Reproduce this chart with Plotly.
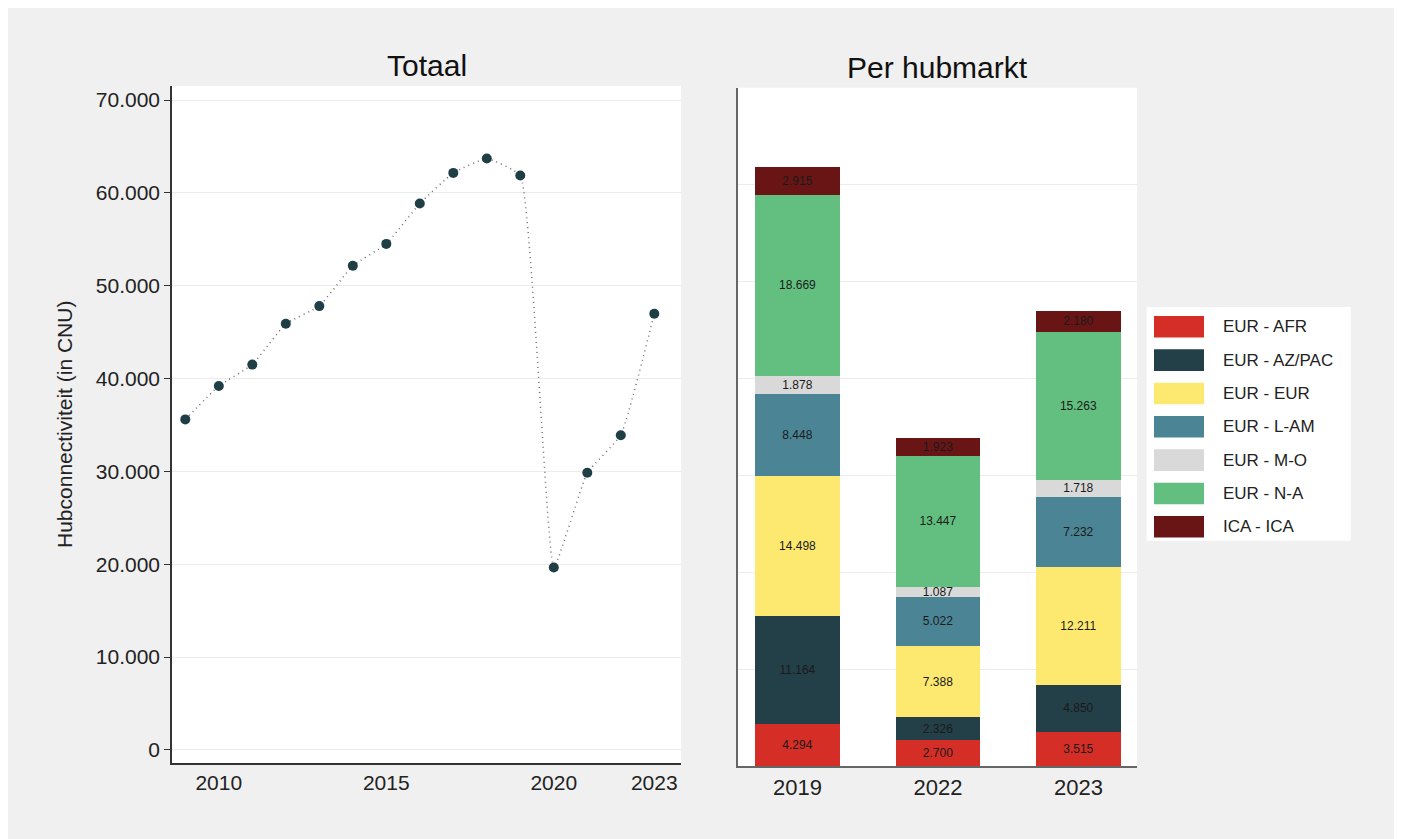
import plotly.graph_objects as go

# ---------------- data ----------------
years = list(range(2009, 2024))
totaal = [35600, 39200, 41500, 45900, 47800, 52150, 54500, 58850, 62150,
          63700, 61866, 19650, 29850, 33893, 46969]
line_xticks = [2010, 2015, 2020, 2023]
line_xticktext = ["2010", "2015", "2020", "2023"]
y_ticks = [0, 10000, 20000, 30000, 40000, 50000, 60000, 70000]

bar_years = ["2019", "2022", "2023"]
segment_names = ["EUR - AFR", "EUR - AZ/PAC", "EUR - EUR", "EUR - L-AM",
                 "EUR - M-O", "EUR - N-A", "ICA - ICA"]
eur_afr = [4294, 2700, 3515]
eur_azpac = [11164, 2326, 4850]
eur_eur = [14498, 7388, 12211]
eur_lam = [8448, 5022, 7232]
eur_mo = [1878, 1087, 1718]
eur_na = [18669, 13447, 15263]
ica_ica = [2915, 1923, 2180]
segment_values = [eur_afr, eur_azpac, eur_eur, eur_lam, eur_mo, eur_na, ica_ica]
segment_colors = ["#d42e27", "#233f48", "#fde96f", "#4b8595",
                  "#d9d9d9", "#63bf80", "#6a1515"]

# ---------------- figure ----------------
W, H = 1394, 831
FONT = "Arial, Liberation Sans, sans-serif"


def px(x):
    return x / W


def py(y):
    return 1 - y / H


fig = go.Figure()

fig.add_trace(go.Scatter(
    x=years, y=totaal, mode="lines+markers",
    line=dict(color="#6f6f6f", width=1.5, dash="1px,4px", shape="spline", smoothing=0.35),
    marker=dict(color="#1f3e46", size=10),
    xaxis="x", yaxis="y", showlegend=False,
))

for name, vals, col in zip(segment_names, segment_values, segment_colors):
    fig.add_trace(go.Bar(
        x=bar_years, y=vals, name=name, marker=dict(color=col, line=dict(width=0)),
        width=0.6, texttemplate="%{y:,}", textposition="inside",
        insidetextanchor="middle", textangle=0, constraintext="none",
        textfont=dict(size=12, color="#1a1a1a", family=FONT),
        xaxis="x2", yaxis="y2", showlegend=False,
    ))

fig.update_layout(
    width=W, height=H,
    margin=dict(l=0, r=0, t=0, b=0),
    paper_bgcolor="#f0f0f0", plot_bgcolor="#ffffff",
    separators=",.",
    barmode="stack",
    font=dict(family=FONT, color="#222222"),
    xaxis=dict(
        domain=[px(164), px(673)], range=[2008.603, 2023.797],
        tickvals=line_xticks, ticktext=line_xticktext,
        showgrid=False, zeroline=False, showline=True,
        linecolor="#333333", linewidth=1.5, ticks="",
        tickfont=dict(size=21, color="#222222"), ticklabelstandoff=0,
        anchor="y",
    ),
    yaxis=dict(
        domain=[py(755), py(78)], range=[-1412, 71509],
        tickvals=y_ticks, tickformat=",",
        showgrid=True, gridcolor="#ececec", gridwidth=1, zeroline=False,
        showline=True, linecolor="#333333", linewidth=1.5,
        ticks="outside", ticklen=6, tickcolor="#333333",
        tickfont=dict(size=21, color="#222222"),
        anchor="x",
    ),
    xaxis2=dict(
        domain=[px(729.7), px(1129)], range=[-0.426, 2.417],
        type="category", showgrid=False, zeroline=False, showline=True,
        linecolor="#666666", linewidth=1.5, ticks="",
        tickfont=dict(size=22, color="#222222"), ticklabelstandoff=1,
        anchor="y2",
    ),
    yaxis2=dict(
        domain=[py(758), py(79.7)], range=[0, 70000],
        tickvals=y_ticks, showticklabels=False,
        showgrid=True, gridcolor="#ececec", gridwidth=1, zeroline=False,
        showline=True, linecolor="#666666", linewidth=1.5, ticks="",
        anchor="x2",
    ),
)

annotations = [
    dict(text="Totaal", x=px(418.7), y=py(58), xref="paper", yref="paper",
         showarrow=False, font=dict(size=30, color="#111111"),
         xanchor="center", yanchor="middle"),
    dict(text="Per hubmarkt", x=px(929.5), y=py(59), xref="paper", yref="paper",
         showarrow=False, font=dict(size=30, color="#111111"),
         xanchor="center", yanchor="middle"),
    dict(text="Hubconnectiviteit (in CNU)", x=px(56), y=py(417),
         xref="paper", yref="paper", showarrow=False, textangle=-90,
         font=dict(size=21, color="#222222"), xanchor="center", yanchor="middle"),
]

shapes = [dict(type="rect", xref="paper", yref="paper",
               x0=px(1138.7), x1=px(1342.7), y0=py(532.7), y1=py(299),
               fillcolor="#ffffff", line=dict(width=0), layer="below")]

for i, (name, col) in enumerate(zip(segment_names, segment_colors)):
    cy = 318.8 + 33.33 * i
    shapes.append(dict(type="rect", xref="paper", yref="paper",
                       x0=px(1146), x1=px(1196), y0=py(cy + 10.8), y1=py(cy - 10.8),
                       fillcolor=col, line=dict(width=0)))
    annotations.append(dict(text=name, x=px(1213), y=py(cy), xref="paper", yref="paper",
                            showarrow=False, xanchor="left", yanchor="middle",
                            font=dict(size=17, color="#222222")))

fig.update_layout(annotations=annotations, shapes=shapes)

fig.write_html("out.html")
